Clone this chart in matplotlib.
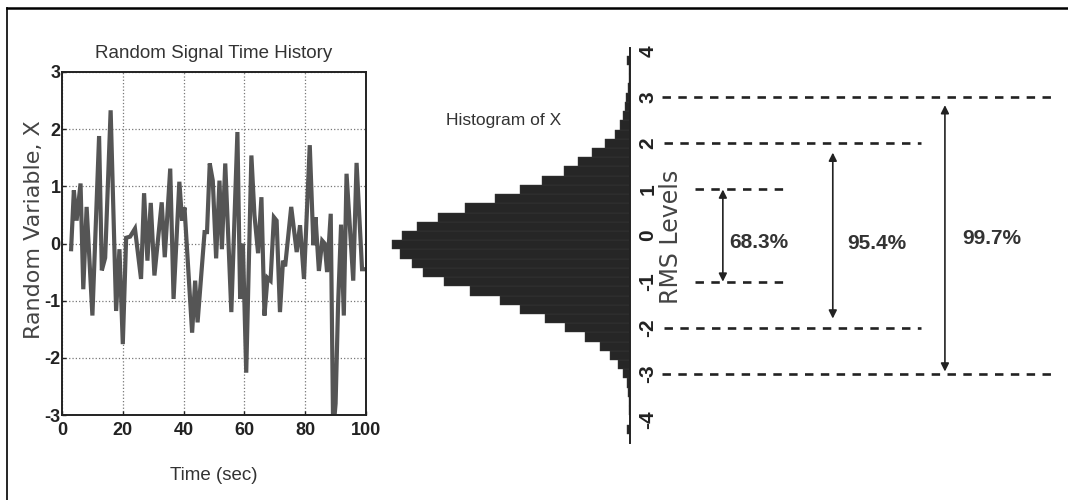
"""Random signal time history next to its sideways histogram with RMS bands."""

import matplotlib
import numpy as np

matplotlib.use("Agg")

import matplotlib.pyplot as plt
from matplotlib.lines import Line2D


plt.rcParams["axes.unicode_minus"] = False

SANS = ["Liberation Sans", "DejaVu Sans"]
WIDE = ["DejaVu Sans"]

# time history samples
TIME_SEC = [
    3.0, 3.9, 4.8, 6.1, 7.0, 8.1, 10.0, 12.2, 13.1, 14.2, 16.0, 17.8, 18.9,
    20.0, 21.1, 22.4, 24.0, 26.0, 27.0, 28.1, 29.2, 30.4, 32.8, 33.8, 35.6,
    36.7, 38.6, 39.5, 40.3, 42.8, 43.8, 44.6, 46.9, 47.7, 48.6, 49.6, 50.7,
    51.8, 52.6, 53.7, 55.7, 57.7, 58.6, 59.5, 60.6, 62.3, 63.3, 64.5, 65.6,
    66.6, 67.6, 68.6, 69.7, 70.6, 71.7, 72.7, 73.4, 75.4, 77.2, 78.3, 79.6,
    81.5, 82.7, 83.4, 84.5, 85.6, 86.4, 87.2, 88.4, 89.2, 90.0, 90.8, 91.8,
    92.7, 93.6, 95.8, 96.9, 98.7, 100.0,
]
SIGNAL_X = [
    -0.10, 0.93, 0.40, 1.05, -0.80, 0.64, -1.26, 1.88, -0.47, -0.25, 2.33,
    -1.18, -0.10, -1.76, 0.10, 0.12, 0.26, -0.62, 0.88, -0.30, 0.71, -0.56,
    0.72, -0.24, 1.31, -0.97, 1.08, 0.40, 0.63, -1.56, -0.65, -1.38, 0.20,
    0.20, 1.40, 1.10, -0.26, 1.10, -0.10, 1.40, -1.20, 1.95, -0.97, 0.00,
    -2.26, 1.54, 0.50, -0.17, 0.81, -1.26, -0.60, -0.65, 0.46, 0.40, -1.20,
    -0.30, -0.40, 0.64, -0.15, 0.32, -0.62, 1.72, -0.03, 0.46, -0.48, 0.05,
    0.00, -0.50, 0.52, -3.30, -2.80, -1.10, 0.33, -1.26, 1.22, -0.65, 1.41,
    -0.45, -0.45,
]

# histogram of X (bin centres and counts)
HIST_CENTERS = [
    -4.2, -4.0, -3.8, -3.6, -3.4, -3.2, -3.0, -2.8, -2.6, -2.4, -2.2, -2.0,
    -1.8, -1.6, -1.4, -1.2, -1.0, -0.8, -0.6, -0.4, -0.2, 0.0, 0.2, 0.4,
    0.6, 0.8, 1.0, 1.2, 1.4, 1.6, 1.8, 2.0, 2.2, 2.4, 2.6, 2.8, 3.0, 3.2,
    3.4, 3.6, 3.8, 4.0,
]
HIST_COUNTS = [
    14, 2, 3, 5, 8, 13, 28, 48, 80, 120, 180, 260, 340, 440, 520, 640, 744,
    828, 872, 920, 952, 912, 852, 768, 660, 540, 440, 352, 264, 208, 152,
    100, 60, 40, 28, 20, 16, 8, 4, 3, 14, 2,
]
BIN_WIDTH = 0.2

RMS_TICKS = [-4, -3, -2, -1, 0, 1, 2, 3, 4]
RMS_LEVELS = [1, 2, 3]
BAND_LABELS = ["68.3%", "95.4%", "99.7%"]


fig = plt.figure(figsize=(10.68, 5.0), dpi=100)
W, H = 1068.0, 500.0

# page frame (top and left edges only)
fig.add_artist(Line2D([7 / W, 1.0], [1 - 8 / H, 1 - 8 / H], color="black", lw=1.8))
fig.add_artist(Line2D([7 / W, 7 / W], [0.0, 1 - 8 / H], color="black", lw=1.2))

# ---- time history ----
ax = fig.add_axes([62 / W, 85 / H, 304 / W, 343 / H])
ax.plot(TIME_SEC, SIGNAL_X, color="#555555", lw=3.0, solid_joinstyle="miter")
ax.set_xlim(0, 100)
ax.set_ylim(-3, 3)
ax.set_xticks([0, 20, 40, 60, 80, 100])
ax.set_yticks([-3, -2, -1, 0, 1, 2, 3])
ax.grid(True, linestyle=":", color="#777777", lw=0.9)
ax.tick_params(direction="in", length=3, width=1, colors="#222222")
ax.tick_params(axis="x", pad=5)
ax.tick_params(axis="y", pad=1)
for label in ax.get_xticklabels() + ax.get_yticklabels():
    label.set_family(SANS)
    label.set_fontweight("bold")
    label.set_fontsize(13)
for spine in ax.spines.values():
    spine.set_linewidth(1.4)
    spine.set_color("#222222")

ax.text(0.5, 1.0 + 18 / 343, "Random Signal Time History", transform=ax.transAxes,
        ha="center", va="center", family=SANS, fontsize=13.5, color="#333333")
ax.set_xlabel("Time (sec)", family=SANS, fontsize=13.5, color="#333333")
ax.xaxis.set_label_coords(0.5, -52 / 343)
ax.set_ylabel("Random Variable, X", family=WIDE, fontsize=16, color="#444444")
ax.yaxis.set_label_coords(-18 / 304, 0.54)

# ---- sideways histogram ----
hax = fig.add_axes([380 / W, 57 / H, 250 / W, 395 / H])
hax.barh(HIST_CENTERS, HIST_COUNTS, height=BIN_WIDTH, color="#262626",
         edgecolor="#3c3c3c", linewidth=0.3)
hax.set_xlim(1000, 0)
hax.set_ylim(-4.5, 4.07)
for side in ("left", "top", "bottom"):
    hax.spines[side].set_visible(False)
hax.spines["right"].set_linewidth(1.4)
hax.spines["right"].set_color("#222222")
hax.set_xticks([])
hax.yaxis.tick_right()
hax.set_yticks(RMS_TICKS)
hax.tick_params(axis="y", length=0, pad=6)
for label in hax.get_yticklabels():
    label.set_family(SANS)
    label.set_fontweight("bold")
    label.set_fontsize(15)
    label.set_rotation(90)
    label.set_verticalalignment("center")
    label.set_color("#222222")

fig.text(504 / W, 1 - 120 / H, "Histogram of X", ha="center", va="center",
         family=SANS, fontsize=12.5, color="#333333")
fig.text(671 / W, 1 - 237 / H, "RMS Levels", rotation=90, ha="center", va="center",
         family=WIDE, fontsize=17, color="#444444")

# ---- RMS bands ----
bax = fig.add_axes([630 / W, 57 / H, 438 / W, 395 / H], sharey=hax)
bax.set_xlim(0, 1)
bax.axis("off")

line_spans = [(0.148, 0.361), (0.078, 0.665), (0.073, 0.963)]
arrow_x = [0.212, 0.463, 0.719]
arrow_tops = [1.0, 1.8, 2.83]
arrow_bottoms = [-1.0, -1.8, -2.95]
label_x = [0.226, 0.495, 0.758]
label_y = [-0.15, -0.17, -0.07]

for level, (x0, x1), ax_x, top, bot, lx, ly, text in zip(
    RMS_LEVELS, line_spans, arrow_x, arrow_tops, arrow_bottoms, label_x, label_y, BAND_LABELS
):
    for sign in (1, -1):
        bax.plot([x0, x1], [sign * level, sign * level], color="#222222", lw=1.9,
                 linestyle=(0, (3.2, 2.8)), clip_on=False)
    bax.annotate("", xy=(ax_x, bot), xytext=(ax_x, top),
                 arrowprops=dict(arrowstyle="<|-|>", color="#222222", lw=1.2,
                                 mutation_scale=12, shrinkA=0, shrinkB=0))
    bax.text(lx, ly, text, ha="left", va="center", family=SANS,
             fontweight="bold", fontsize=15, color="#333333")

fig.savefig("out.png", dpi=100, facecolor="white")
plt.close(fig)
